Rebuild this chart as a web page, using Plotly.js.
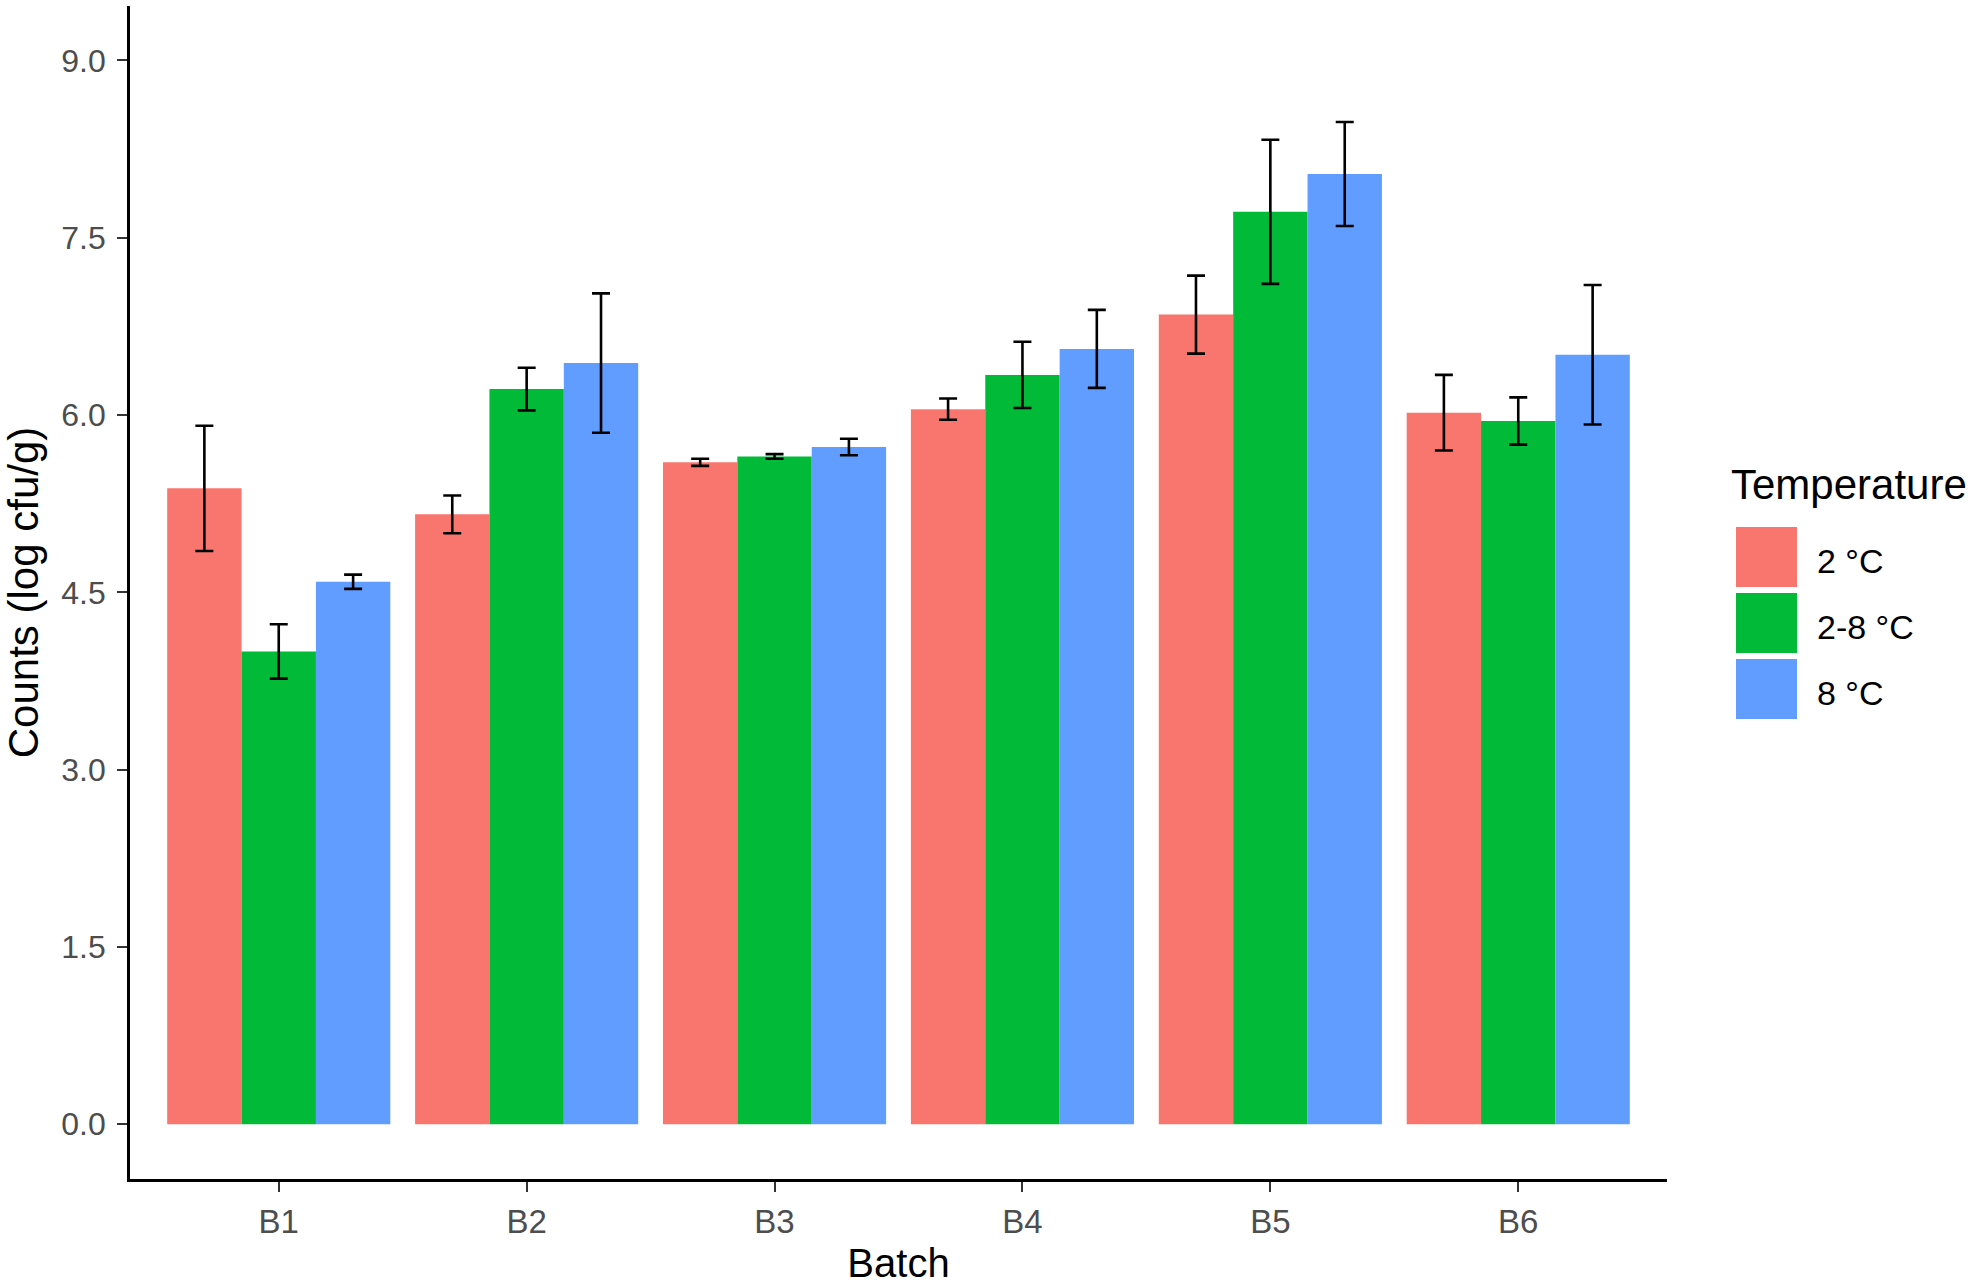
<!DOCTYPE html>
<html>
<head>
<meta charset="utf-8">
<script src="https://cdn.plot.ly/plotly-3.0.1.min.js"></script>
<style>
  html, body { margin: 0; padding: 0; background: #ffffff; }
  #chart { width: 1983px; height: 1287px; }
</style>
</head>
<body>
<div id="chart"></div>
<script>
// ---- data ----
const batches = ["B1", "B2", "B3", "B4", "B5", "B6"];
const seriesNames = ["2 \u00B0C", "2-8 \u00B0C", "8 \u00B0C"];
const seriesColors = ["#F8766D", "#00BA38", "#619CFF"];

const mean2C   = [5.38, 5.16, 5.60, 6.05, 6.85, 6.02];
const sd2C     = [0.53, 0.16, 0.03, 0.09, 0.33, 0.32];
const mean28C  = [4.00, 6.22, 5.65, 6.34, 7.72, 5.95];
const sd28C    = [0.23, 0.18, 0.02, 0.28, 0.61, 0.20];
const mean8C   = [4.59, 6.44, 5.73, 6.56, 8.04, 6.51];
const sd8C     = [0.06, 0.59, 0.07, 0.33, 0.44, 0.59];

const yTickVals = [0, 1.5, 3, 4.5, 6, 7.5, 9];
const yTickText = ["0.0", "1.5", "3.0", "4.5", "6.0", "7.5", "9.0"];

const means = [mean2C, mean28C, mean8C];
const sds = [sd2C, sd28C, sd8C];

// ---- figure geometry (pixels) ----
const W = 1983, H = 1287;
const M = { l: 130, r: 316, t: 6, b: 108 };
const plotW = W - M.l - M.r, plotH = H - M.t - M.b;
const px2paperX = x => (x - M.l) / plotW;
const px2paperY = y => (H - M.b - y) / plotH;

const font = '"Liberation Sans", Arial, sans-serif';

const traces = seriesNames.map((name, i) => ({
  type: 'bar',
  name: name,
  x: batches,
  y: means[i],
  marker: { color: seriesColors[i], line: { width: 0 } },
  error_y: { type: 'data', array: sds[i], visible: true, color: '#000000', thickness: 2.6, width: 9 },
  hoverinfo: 'x+y+name'
}));

// custom legend (large keys like ggplot)
const shapes = [];
const annotations = [];
const keyX0 = 1736, keyX1 = 1797, keyH = 60, keyGap = 6, keyTop = 527;
annotations.push({
  xref: 'paper', yref: 'paper',
  x: px2paperX(1729), y: px2paperY(484),
  xanchor: 'left', yanchor: 'middle',
  text: 'Temperature', showarrow: false,
  font: { family: font, size: 42, color: '#000000' }
});
seriesNames.forEach((name, i) => {
  const top = keyTop + i * (keyH + keyGap);
  shapes.push({
    type: 'rect', xref: 'paper', yref: 'paper',
    x0: px2paperX(keyX0), x1: px2paperX(keyX1),
    y0: px2paperY(top + keyH), y1: px2paperY(top),
    fillcolor: seriesColors[i], line: { width: 0 }
  });
  annotations.push({
    xref: 'paper', yref: 'paper',
    x: px2paperX(1815), y: px2paperY(top + keyH / 2 + 4),
    xanchor: 'left', yanchor: 'middle',
    text: name, showarrow: false,
    font: { family: font, size: 34, color: '#000000' }
  });
});

const layout = {
  width: W, height: H,
  margin: M,
  paper_bgcolor: '#ffffff',
  plot_bgcolor: '#ffffff',
  font: { family: font, color: '#000000' },
  barmode: 'group',
  bargap: 0.1,
  bargroupgap: 0,
  showlegend: false,
  xaxis: {
    type: 'category',
    categoryorder: 'array',
    categoryarray: batches,
    range: [-0.6, 5.6],
    showline: true, linecolor: '#000000', linewidth: 2.6,
    showgrid: false, zeroline: false,
    ticks: 'outside', ticklen: 10, tickwidth: 1.5, tickcolor: '#333333',
    tickfont: { family: font, size: 33, color: '#4D4D4D' },
    ticklabelstandoff: 2,
    title: { text: 'Batch', font: { family: font, size: 40, color: '#000000' }, standoff: 10 },
    automargin: false
  },
  yaxis: {
    range: [-0.463, 9.461],
    tickvals: yTickVals,
    ticktext: yTickText,
    showline: true, linecolor: '#000000', linewidth: 2.6,
    showgrid: false, zeroline: false,
    ticks: 'outside', ticklen: 10, tickwidth: 1.5, tickcolor: '#333333',
    tickfont: { family: font, size: 32, color: '#4D4D4D' },
    ticklabelstandoff: 5,
    title: { text: 'Counts (log cfu/g)', font: { family: font, size: 42, color: '#000000' }, standoff: 12 },
    automargin: false
  },
  shapes: shapes,
  annotations: annotations
};

Plotly.newPlot('chart', traces, layout, { displayModeBar: false, staticPlot: false });
</script>
</body>
</html>
